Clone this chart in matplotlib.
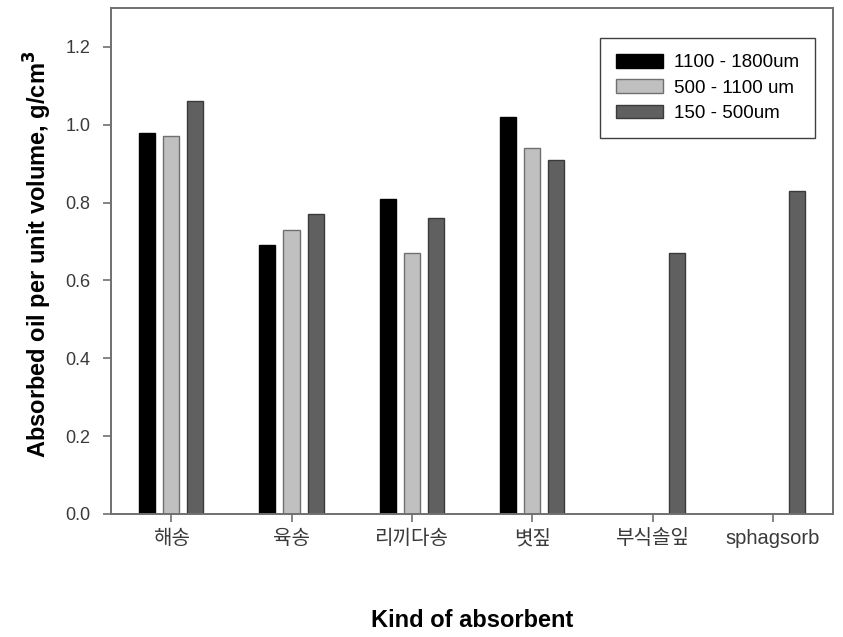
import matplotlib.pyplot as plt
import numpy as np

plt.rcParams['font.family'] = ['Liberation Sans', 'Noto Sans CJK KR', 'DejaVu Sans']

# Absorbed oil per unit volume for each absorbent and particle size range
kinds = ['해송', '육송', '리끼다송', '볏짚', '부식솔잎', 'sphagsorb']
size_labels = ['1100 - 1800um', '500 - 1100 um', '150 - 500um']
coarse = [0.98, 0.69, 0.81, 1.02, np.nan, np.nan]
medium = [0.97, 0.73, 0.67, 0.94, np.nan, np.nan]
fine = [1.06, 0.77, 0.76, 0.91, 0.67, 0.83]

fig = plt.figure(figsize=(8.43, 6.37), dpi=100)
ax = fig.add_axes([111 / 843, 1 - 514 / 637, 722 / 843, 506 / 637])

x = np.arange(len(kinds))
width = 0.133
offset = 0.2
styles = [('#000000', '#000000'), ('#c0c0c0', '#707070'), ('#606060', '#3a3a3a')]
for i, (vals, (fc, ec)) in enumerate(zip([coarse, medium, fine], styles)):
    ax.bar(x + (i - 1) * offset, vals, width, color=fc, edgecolor=ec,
           linewidth=1.0, label=size_labels[i])

ax.set_xlim(-0.5, 5.5)
ax.set_ylim(0, 1.3)
yt = np.arange(0, 1.21, 0.2)
ax.set_yticks(yt)
ax.set_yticklabels([f'{v:.1f}' for v in yt])
ax.set_xticks(x)
ax.set_xticklabels(kinds)

for sp in ax.spines.values():
    sp.set_color('#707070')
    sp.set_linewidth(1.4)
ax.tick_params(axis='both', colors='#707070', labelcolor='#3a3a3a',
               length=6, width=1.2)
ax.tick_params(axis='y', labelsize=13, pad=9)
ax.tick_params(axis='x', labelsize=14.5, pad=5)

ax.set_ylabel('Absorbed oil per unit volume, g/cm$^\\mathbf{3}$',
              fontsize=17, fontweight='bold', va='center')
ax.yaxis.set_label_coords(-0.101, 0.514)
ax.set_xlabel('Kind of absorbent', fontsize=17, fontweight='bold', va='center')
ax.xaxis.set_label_coords(0.5, -0.211)

leg = ax.legend(loc='upper right', bbox_to_anchor=(1 - 18 / 722, 1 - 30 / 506),
                borderaxespad=0, fancybox=False, framealpha=1,
                edgecolor='#404040', fontsize=13.5, handlelength=2.5,
                handleheight=0.75, labelspacing=0.42, borderpad=0.85,
                handletextpad=0.6)
leg.get_frame().set_linewidth(1.0)

fig.savefig('out.png', dpi=100)
